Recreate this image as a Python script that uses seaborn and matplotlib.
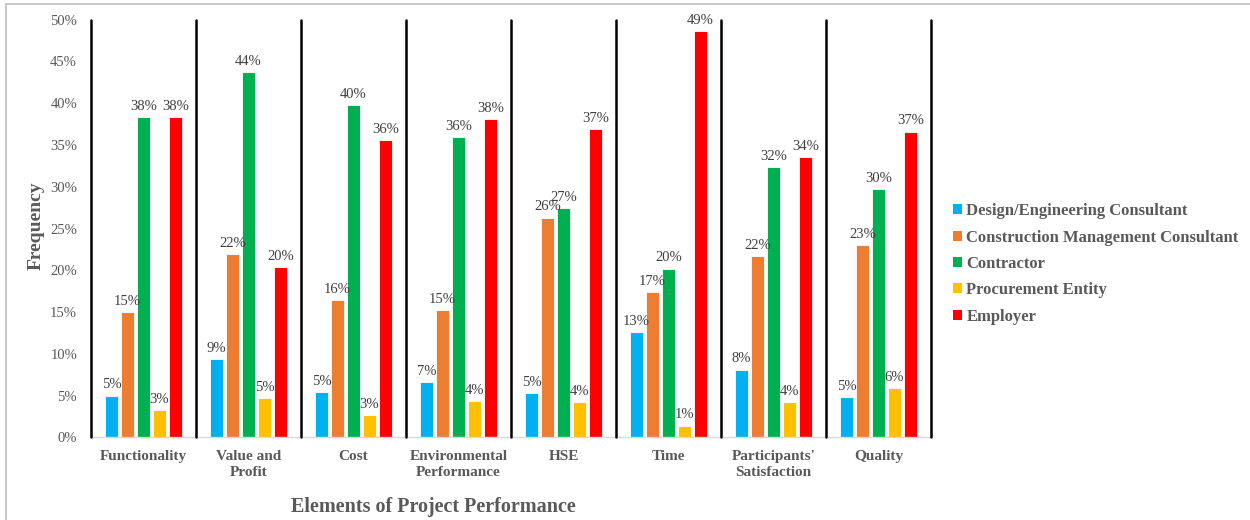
import matplotlib
matplotlib.use("Agg")
import matplotlib.pyplot as plt
from matplotlib.lines import Line2D
from matplotlib.patches import Patch
from matplotlib.ticker import PercentFormatter
import seaborn as sns
import pandas as pd

# Elements of project performance and the share (%) attributed to each party
categories = ["Functionality", "Value and\nProfit", "Cost", "Environmental\nPerformance",
              "HSE", "Time", "Participants'\nSatisfaction", "Quality"]
design_engineering = [5.0, 9.4, 5.4, 6.6, 5.3, 12.6, 8.1, 4.8]
construction_mgmt = [15.0, 21.9, 16.4, 15.2, 26.3, 17.4, 21.7, 23.0]
contractor = [38.3, 43.7, 39.8, 35.9, 27.4, 20.2, 32.4, 29.7]
procurement = [3.3, 4.7, 2.7, 4.3, 4.2, 1.4, 4.2, 5.9]
employer = [38.3, 20.4, 35.6, 38.1, 36.9, 48.6, 33.6, 36.6]

series_names = ["Design/Engineering Consultant", "Construction Management Consultant",
                "Contractor", "Procurement Entity", "Employer"]
series_values = [design_engineering, construction_mgmt, contractor, procurement, employer]
palette = ["#00B0F0", "#ED7D31", "#00B050", "#FFC000", "#FF0000"]

rows = []
for name, vals in zip(series_names, series_values):
    for cat, v in zip(categories, vals):
        rows.append({"Element": cat, "Party": name, "Frequency": v})
df = pd.DataFrame(rows)

sns.set_theme(style="white")
plt.rcParams["font.family"] = ["Liberation Serif", "DejaVu Serif"]

W, H = 1250, 520
fig = plt.figure(figsize=(W / 100, H / 100), dpi=100)
ax = fig.add_axes([91 / W, 1 - 437.3 / H, 840 / W, (437.3 - 19.7) / H])

sns.barplot(data=df, x="Element", y="Frequency", hue="Party", order=categories,
            hue_order=series_names, palette=palette, width=0.76, gap=0.2,
            edgecolor="white", linewidth=0.6, saturation=1, legend=False, ax=ax)

text_gray = "#595959"
for cont in ax.containers:
    ax.bar_label(cont, labels=[f"{round(v)}%" for v in cont.datavalues], padding=3,
                 fontsize=10.5, color="#404040")

ax.set_ylim(0, 50)
ax.set_xlim(-0.5, len(categories) - 0.5)
ax.yaxis.set_major_locator(plt.MultipleLocator(5))
ax.yaxis.set_major_formatter(PercentFormatter(decimals=0))
ax.tick_params(axis="y", length=0, pad=10, labelsize=10.5, labelcolor=text_gray)
ax.tick_params(axis="x", length=0, pad=9, labelsize=11, labelcolor=text_gray)
for lab in ax.get_xticklabels():
    lab.set_fontweight("bold")
    lab.set_linespacing(1.3)

for side in ["left", "right", "top"]:
    ax.spines[side].set_visible(False)
ax.spines["bottom"].set_color("#D9D9D9")
ax.spines["bottom"].set_linewidth(1.0)

# black separators between element groups
for k in range(len(categories) + 1):
    ax.axvline(k - 0.5, ymin=0, ymax=1, color="black", lw=1.8, clip_on=False, zorder=3)

ax.set_xlabel("")
ax.set_ylabel("")
fig.text(36 / W, 1 - 226 / H, "Frequency", rotation=90, ha="center", va="center",
         fontsize=14, fontweight="bold", color=text_gray)
fig.text(433 / W, 1 - 507 / H, "Elements of Project Performance", ha="center",
         va="center", fontsize=14.5, fontweight="bold", color=text_gray)

handles = [Patch(facecolor=c, edgecolor="none") for c in palette]
leg = fig.legend(handles, series_names, loc="center left",
                 bbox_to_anchor=(938 / W, 1 - 264 / H), frameon=False,
                 handlelength=0.55, handleheight=0.55, handletextpad=0.25,
                 labelspacing=0.62, prop={"weight": "bold", "size": 12})
for t in leg.get_texts():
    t.set_color(text_gray)

# outer chart border (top and left edges)
fig.add_artist(Line2D([6 / W, 6 / W], [0, 1 - 4 / H], transform=fig.transFigure,
                      color="#BFBFBF", lw=1.2))
fig.add_artist(Line2D([6 / W, 1], [1 - 4 / H, 1 - 4 / H], transform=fig.transFigure,
                      color="#BFBFBF", lw=1.2))

fig.savefig("out.png", dpi=100, facecolor="white")
